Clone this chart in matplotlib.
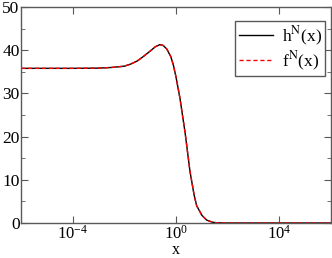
import numpy as np
import matplotlib
matplotlib.use("Agg")
import matplotlib.pyplot as plt
from matplotlib.ticker import MultipleLocator, NullLocator

plt.rcParams['font.family'] = ['Liberation Serif', 'DejaVu Serif']
plt.rcParams['mathtext.fontset'] = 'stix'
plt.rcParams['font.size'] = 12

# curve (exponent of x, value)
log_x = np.array([-6, -5, -4, -3, -2.5, -2, -1.75, -1.5, -1.25, -1.0, -0.8,
                  -0.62, -0.5, -0.36, -0.2, -0.1, 0.0, 0.15, 0.35, 0.54, 0.7,
                  0.8, 1.0, 1.18, 1.4, 1.57, 2, 3, 4, 5, 6])
h_vals = [35.8, 35.8, 35.8, 35.85, 36.0, 36.3, 36.8, 37.5, 38.6, 39.8, 40.8,
          41.3, 41.1, 40.3, 38.5, 36.5, 33.8, 29.0, 21.0, 12.0, 6.5,
          4.0, 1.8, 0.7, 0.2, 0.05, 0.0, 0.0, 0.0, 0.0, 0.0]
f_vals = list(h_vals)
x_ticks = [1e-4, 1e0, 1e4]

x = 10.0 ** log_x

fig = plt.figure(figsize=(3.32, 2.58), dpi=100)
ax = fig.add_axes([21/332, 35/258, 310/332, 216/258])

ax.plot(x, h_vals, color='black', lw=1.0, label=r'h$^{\rm N}$(x)')
ax.plot(x, f_vals, color='red', lw=1.0, ls=(0, (3, 2)), label=r'f$^{\rm N}$(x)')

ax.set_xscale('log')
ax.set_xlim(1e-6, 1e6)
ax.set_ylim(0, 50)
ax.set_xticks(x_ticks)
ax.xaxis.set_minor_locator(NullLocator())
ax.yaxis.set_major_locator(MultipleLocator(10))
ax.yaxis.set_minor_locator(MultipleLocator(5))
ax.tick_params(which='both', direction='in', top=True, right=True,
               color='0.35', labelsize=12.5)
ax.tick_params(axis='x', labelsize=12)
ax.tick_params(axis='y', pad=1)
ax.tick_params(axis='x', pad=1)
ax.tick_params(which='major', length=5)
ax.tick_params(which='minor', length=3)
for s in ax.spines.values():
    s.set_color('0.35')
    s.set_linewidth(1.0)

ax.set_xlabel('x', fontsize=11.5, va='bottom')
ax.xaxis.set_label_coords(0.5, -35/216)

leg = ax.legend(loc='upper right', bbox_to_anchor=(0.982, 0.935),
                fancybox=False, framealpha=1, edgecolor='0.35',
                fontsize=12.5, handlelength=2.0, handletextpad=0.5,
                borderpad=0.2, labelspacing=0.1, borderaxespad=0)
leg.get_frame().set_linewidth(1.0)

fig.savefig('out.png', dpi=100)
